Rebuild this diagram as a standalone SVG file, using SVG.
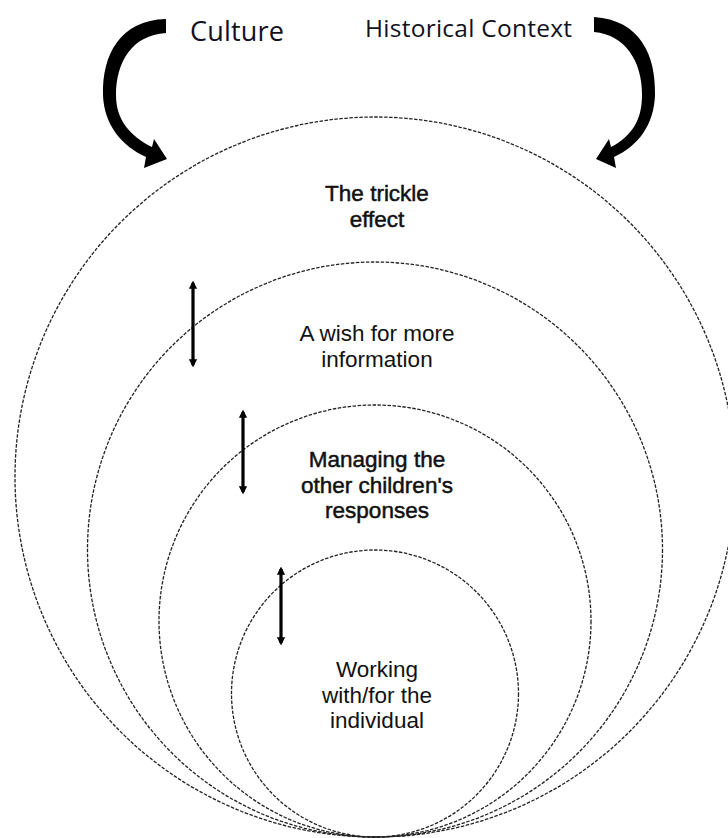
<svg xmlns="http://www.w3.org/2000/svg" width="728" height="838" viewBox="0 0 728 838">
<style>
.ring{fill:none;stroke:#222;stroke-width:1.3;stroke-dasharray:3.5 1.5}
.lbl{font-family:"Liberation Sans",Arial,sans-serif;fill:#111;text-anchor:middle;font-size:22.5px}
.bold{stroke:#111;stroke-width:0.5}
.hdr{font-family:"Open Sans","Noto Sans",sans-serif;fill:#111122}
.dbl{stroke:#000;stroke-width:3.2;marker-start:url(#tip);marker-end:url(#tip)}
.big{fill:#000}
</style>
<defs>
<marker id="tip" viewBox="0 0 10 10" refX="7" refY="5" markerWidth="2.6" markerHeight="2.6" orient="auto-start-reverse" markerUnits="strokeWidth">
<path d="M0,0 L10,5 L0,10 Z" fill="#000"/>
</marker>
</defs>
<rect width="728" height="838" fill="#fff"/>
<g id="culture"><text class="hdr" x="190" y="41" font-size="27" textLength="94">Culture</text></g>
<g id="historical-context"><text class="hdr" x="365" y="37" font-size="24.5" textLength="207">Historical Context</text></g>
<g id="trickle-effect">
<circle class="ring" cx="375" cy="477" r="360"/>
<text class="lbl bold" x="377" y="201">The trickle</text>
<text class="lbl bold" x="377" y="226.5">effect</text>
</g>
<g id="wish-info">
<circle class="ring" cx="375" cy="549.5" r="287.5"/>
<text class="lbl" x="377" y="341" fill="#222">A wish for more</text>
<text class="lbl" x="377" y="366.5" fill="#222">information</text>
</g>
<g id="managing">
<circle class="ring" cx="375" cy="621" r="216"/>
<text class="lbl bold" x="377" y="467">Managing the</text>
<text class="lbl bold" x="377" y="492.5">other children's</text>
<text class="lbl bold" x="377" y="518">responses</text>
</g>
<g id="working">
<circle class="ring" cx="375" cy="693.5" r="143.5"/>
<text class="lbl" x="377" y="677">Working</text>
<text class="lbl" x="377" y="702.5">with/for the</text>
<text class="lbl" x="377" y="728">individual</text>
</g>
<g id="connectors">
<path class="big" d="M166,19 C120,20 102,55 103,95 C104,125 122,146 146,157 L144,168 L167,159 L154,139 L152,147 C130,136 116,120 116,95 C116,62 132,35 166,33 Z"/>
<path class="big" d="M594,17 C640,20 656,55 655,95 C654,125 638,146 614,157 L616,168 L596,159 L609,139 L611,147 C632,136 642,120 642,95 C642,62 626,35 594,32 Z"/>
<line class="dbl" x1="193" y1="283" x2="193" y2="365"/>
<line class="dbl" x1="243" y1="412" x2="243" y2="492"/>
<line class="dbl" x1="281" y1="569" x2="281" y2="643"/>
</g>
</svg>
